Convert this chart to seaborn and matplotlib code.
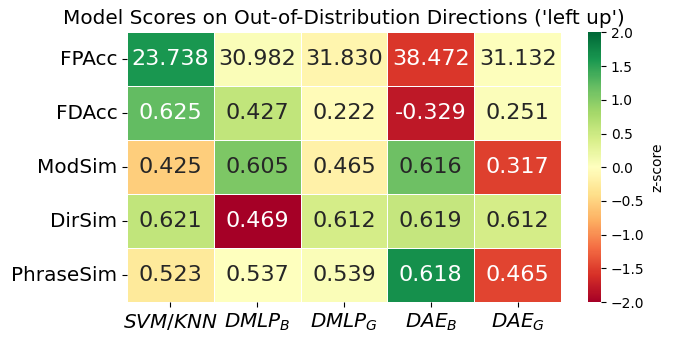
import numpy as np
import pandas as pd
import matplotlib
matplotlib.use("Agg")
import matplotlib.pyplot as plt
import seaborn as sns

models = ["$SVM/KNN$", "$DMLP_B$", "$DMLP_G$", "$DAE_B$", "$DAE_G$"]
metrics = ["FPAcc", "FDAcc", "ModSim", "DirSim", "PhraseSim"]

fpacc = [23.738, 30.982, 31.830, 38.472, 31.132]
fdacc = [0.625, 0.427, 0.222, -0.329, 0.251]
modsim = [0.425, 0.605, 0.465, 0.616, 0.317]
dirsim = [0.621, 0.469, 0.612, 0.619, 0.612]
phrasesim = [0.523, 0.537, 0.539, 0.618, 0.465]

# FPAcc is an error measure: lower is better, so its z-score is flipped
higher_is_better = [False, True, True, True, True]

scores = pd.DataFrame([fpacc, fdacc, modsim, dirsim, phrasesim],
                      index=metrics, columns=models)

# Row-wise z-scores used for colouring
z = scores.sub(scores.mean(axis=1), axis=0).div(scores.std(axis=1, ddof=0), axis=0)
sign = np.where(higher_is_better, 1.0, -1.0)
z = z.mul(sign, axis=0)

fig = plt.figure(figsize=(6.74, 3.43), dpi=100)
ax = fig.add_axes([0.1884, 0.1195, 0.6439, 0.786])
cax = fig.add_axes([0.8724, 0.1195, 0.0193, 0.786])

annot = scores.map(lambda v: f"{v:.3f}").values
sns.heatmap(z, ax=ax, cbar_ax=cax, cmap="RdYlGn", vmin=-2, vmax=2,
            annot=annot, fmt="", annot_kws={"fontsize": 16},
            linewidths=0.5, linecolor="white",
            cbar_kws={"label": "z-score"})

ax.set_title("Model Scores on Out-of-Distribution Directions ('left up')",
             fontsize=14.4)
ax.set_xticklabels(models, fontsize=14.4, rotation=0)
ax.set_yticklabels(metrics, fontsize=14.4, rotation=0)
ax.set_xlabel("")
ax.set_ylabel("")
cax.tick_params(labelsize=10)
cax.yaxis.label.set_size(10)

fig.savefig("out.png", dpi=100)
